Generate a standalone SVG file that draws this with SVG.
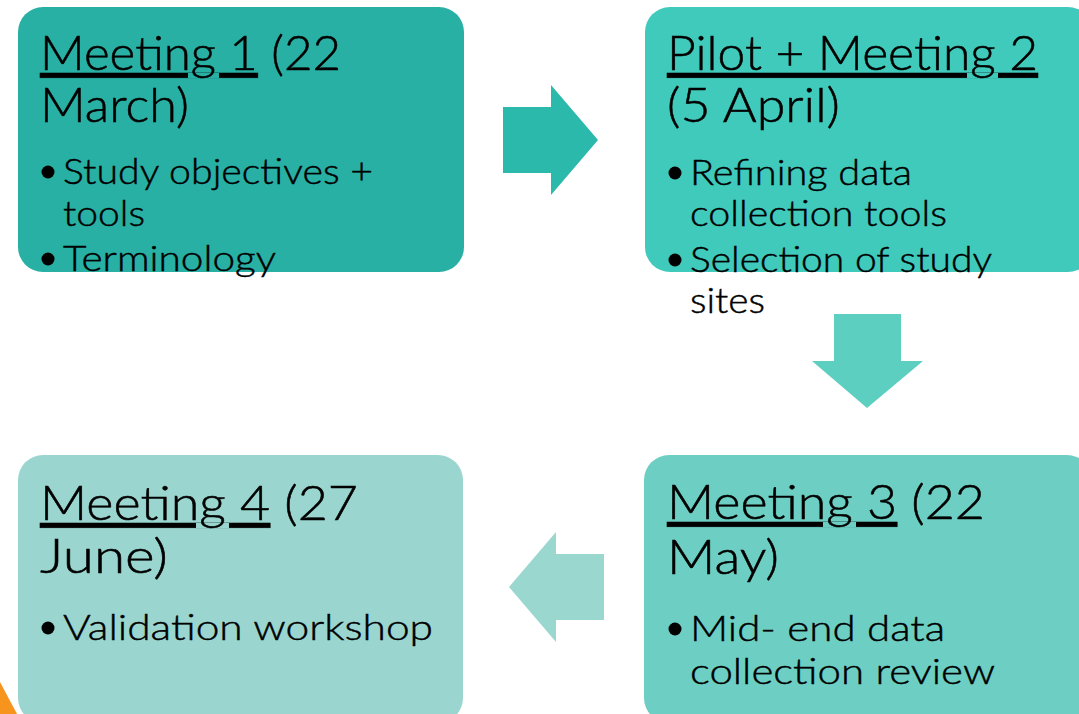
<svg xmlns="http://www.w3.org/2000/svg" width="1079" height="714" viewBox="0 0 1079 714">
  <style>
    .h { font-family: Lato, "Open Sans", "Liberation Sans", sans-serif; font-size: 48px; font-weight: 300; fill: #000; stroke: #000; stroke-width: 0.55px; }
    .b { font-family: Lato, "Open Sans", "Liberation Sans", sans-serif; font-size: 36px; font-weight: 300; fill: #000; stroke: #000; stroke-width: 0.45px; }
    .u { text-decoration: underline; }
    .dot { fill: #000; }
  </style>
  <rect width="1079" height="714" fill="#ffffff"/>
  <polygon points="0,682 0,714 17,714" fill="#F7941D"/>
  <g id="connectors">
    <polygon id="arrow-1-2" points="503,107 551,107 551,85 598,140 551,195 551,173 503,173" fill="#2BB9AC"/>
    <polygon id="arrow-2-3" points="834,314 901,314 901,361 923,361 867,408 812,361 834,361" fill="#5DCFC1"/>
    <polygon id="arrow-3-4" points="604,554 556,554 556,532 509,587 556,642 556,620 604,620" fill="#9AD7CF"/>
  </g>
  <g id="node-meeting1">
    <rect x="18" y="7" width="446" height="265" rx="25" fill="#28B0A4"/>
    <text class="h" x="40" y="70" textLength="301" lengthAdjust="spacingAndGlyphs"><tspan class="u">Meeting 1</tspan> (22</text>
    <text class="h" x="40" y="122" textLength="149" lengthAdjust="spacingAndGlyphs">March)</text>
    <circle class="dot" cx="48" cy="172" r="6.5"/>
    <text class="b" x="63" y="184" textLength="310" lengthAdjust="spacingAndGlyphs">Study objectives +</text>
    <text class="b" x="63" y="226" textLength="82" lengthAdjust="spacingAndGlyphs">tools</text>
    <circle class="dot" cx="48" cy="259" r="6.5"/>
    <text class="b" x="63" y="271" textLength="213" lengthAdjust="spacingAndGlyphs">Terminology</text>
  </g>
  <g id="node-pilot-meeting2">
    <rect x="645" y="7" width="448" height="265" rx="25" fill="#3FCABB"/>
    <text class="h" x="667" y="70" textLength="371" lengthAdjust="spacingAndGlyphs"><tspan class="u">Pilot + Meeting 2</tspan></text>
    <text class="h" x="667" y="122" textLength="173" lengthAdjust="spacingAndGlyphs">(5 April)</text>
    <circle class="dot" cx="675" cy="173" r="6.5"/>
    <text class="b" x="690" y="185" textLength="222" lengthAdjust="spacingAndGlyphs">Refining data</text>
    <text class="b" x="690" y="226" textLength="257" lengthAdjust="spacingAndGlyphs">collection tools</text>
    <circle class="dot" cx="675" cy="260" r="6.5"/>
    <text class="b" x="690" y="272" textLength="302" lengthAdjust="spacingAndGlyphs">Selection of study</text>
    <text class="b" x="690" y="313" textLength="75" lengthAdjust="spacingAndGlyphs">sites</text>
  </g>
  <g id="node-meeting3">
    <rect x="644" y="455" width="448" height="268" rx="25" fill="#6DCFC3"/>
    <text class="h" x="667" y="519" textLength="318" lengthAdjust="spacingAndGlyphs"><tspan class="u">Meeting 3</tspan> (22</text>
    <text class="h" x="667" y="574" textLength="112" lengthAdjust="spacingAndGlyphs">May)</text>
    <circle class="dot" cx="675" cy="629" r="6.5"/>
    <text class="b" x="690" y="641" textLength="255" lengthAdjust="spacingAndGlyphs">Mid- end data</text>
    <text class="b" x="690" y="684" textLength="305" lengthAdjust="spacingAndGlyphs">collection review</text>
  </g>
  <g id="node-meeting4">
    <rect x="18" y="455" width="445" height="268" rx="25" fill="#9AD6CF"/>
    <text class="h" x="40" y="520" textLength="318" lengthAdjust="spacingAndGlyphs"><tspan class="u">Meeting 4</tspan> (27</text>
    <text class="h" x="40" y="573" textLength="128" lengthAdjust="spacingAndGlyphs">June)</text>
    <circle class="dot" cx="48" cy="628" r="6.5"/>
    <text class="b" x="63" y="640" textLength="370" lengthAdjust="spacingAndGlyphs">Validation workshop</text>
  </g>
</svg>
